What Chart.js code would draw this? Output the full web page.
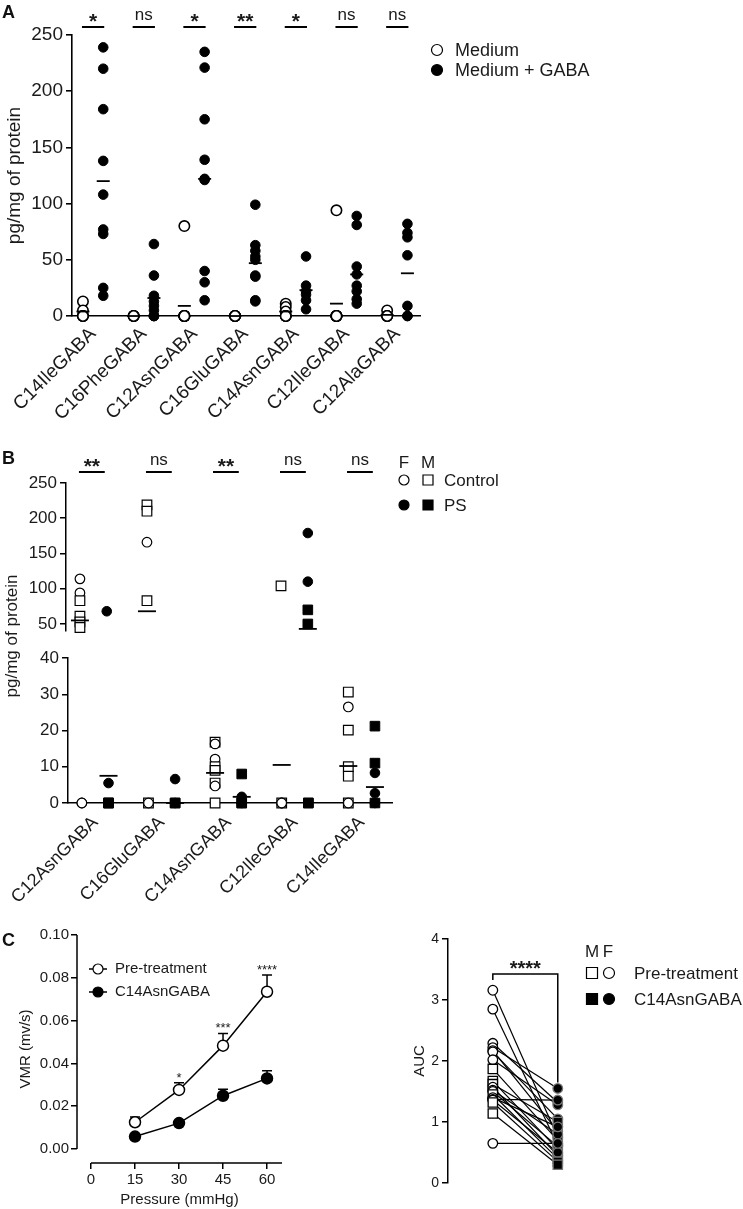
<!DOCTYPE html>
<html><head><meta charset="utf-8">
<script src="https://cdn.jsdelivr.net/npm/chart.js@4.4.1/dist/chart.umd.min.js"></script>
<style>
html,body{margin:0;padding:0;background:#fff;}
#wrap{position:relative;width:743px;height:1209px;overflow:hidden;background:#fff;}
canvas{position:absolute;left:0;top:0;}
.lab{position:absolute;font:bold 18px "Liberation Sans",Arial,sans-serif;color:#111;}
</style></head><body>
<div id="wrap">
<canvas id="cA" width="743" height="1209"></canvas>
<canvas id="cB1" width="743" height="1209"></canvas>
<canvas id="cB2" width="743" height="1209"></canvas>
<canvas id="cC1" width="743" height="1209"></canvas>
<canvas id="cC2" width="743" height="1209"></canvas>
<div class="lab" style="left:2px;top:2px">A</div>
<div class="lab" style="left:2px;top:448px">B</div>
<div class="lab" style="left:2px;top:930px">C</div>
</div>
<script>
// ---------------- DATA ----------------
// Panel A
const catsA = ['C14IleGABA','C16PheGABA','C12AsnGABA','C16GluGABA','C14AsnGABA','C12IleGABA','C12AlaGABA'];
const mediumA = [[13,5,0,0,0],[0,0,0,0],[80,0,0,0,0,0,0,0],[0,0,0,0],[11,8,4,0,0,0],[94,0,0,0,0,0,0,0],[5,0,0,0]];
const gabaA = [[239,220,184,138,108,77,73,25,18],[64,36,18,13,9,5,0,0,0],[235,221,175,139,122,121,40,30,14],[99,63,58,53,50,36,35,14,13],[53,27,22,19,14,6],[89,81,44,37,27,22,15,11],[82,74,70,54,9,0,0]];
const meanMediumA = [4,0,9,0,4,11,1];
const meanGabaA = [120,16,122,47,23,37,38];
const sigA = ['*','ns','*','**','*','ns','ns'];
const ticksA = [0,50,100,150,200,250];

// Panel B
const catsB = ['C12AsnGABA','C16GluGABA','C14AsnGABA','C12IleGABA','C14IleGABA'];
const controlB = [[114,94,83,61,53,45,0,0],[219,210,166,83,0,0],[16.8,16.3,12.1,10,9,5.5,4.7,0],[104,0,0,0],[30.6,26.5,20.1,10,7.4,0,0]];
const controlSexB = [['F','F','M','M','M','M','F','F'],['M','M','F','M','M','F'],['M','F','F','M','M','M','F','M'],['M','M','F','F'],['M','F','M','M','M','M','F']];
const psB = [[68,5.5,0,0,0],[6.6,0,0,0],[8,1.7,0,0,0],[179,110,70,50,0,0],[21.2,11,8.3,2.7,0,0]];
const psSexB = [['F','F','M','M','M'],['F','M','M','F'],['M','F','M','M','F'],['F','F','M','M','M','M'],['M','M','F','F','M','F']];
const meanControlB = [55,68,8.3,10.5,10.2];
const meanPsB = [7.5,0,1.7,43,4.4];
const sigB = ['**','ns','**','ns','ns'];
const ticksBUpper = [50,100,150,200,250];
const ticksBLower = [0,10,20,30,40];

// Panel C (left)
const pressure = [15,30,45,60];
const vmrPre = [0.0125,0.0276,0.0483,0.0735];
const vmrPreSem = [0.0025,0.0034,0.0057,0.0078];
const vmrPost = [0.0058,0.0121,0.0249,0.033];
const vmrPostSem = [0.0006,0.001,0.003,0.0036];
const sigC = ['','*','***','****'];
const ticksCx = [0,15,30,45,60];
const ticksCy = [0,0.02,0.04,0.06,0.08,0.10];

// Panel C (right)
const aucPre  = [3.16,2.85,2.29,2.22,2.17,2.15,2.02,1.87,1.67,1.62,1.57,1.52,1.50,1.45,1.40,1.37,1.36,1.32,1.14,0.65];
const aucPost = [0.75,0.62,1.32,1.55,0.85,1.05,1.28,0.70,0.55,1.00,0.45,0.80,0.60,0.40,0.92,1.36,0.50,0.35,0.30,0.65];
const aucSex  = ['F','F','F','F','F','F','F','M','M','M','F','F','F','M','F','F','F','M','M','F'];
const ticksAUC = [0,1,2,3,4];

// ---------------- SETUP ----------------
const FONT = '"Liberation Sans", Arial, sans-serif';
const INK = '#1a1a1a';
Chart.defaults.font.family = FONT;
Chart.defaults.color = INK;
Chart.defaults.animation = false;
Chart.defaults.events = [];
Chart.defaults.plugins.legend.display = false;
Chart.defaults.plugins.tooltip.enabled = false;
const H = 1209, W = 743;

function f(size, bold){ return (bold?'bold ':'') + size + 'px ' + FONT; }
function styleFor(c){ return c.raw && c.raw.s === 'M' ? 'rect' : 'circle'; }
function radiusFor(c){ return c.raw && c.raw.s === 'M' ? 6.8 : 4.8; }
function yTicksFrom(arr){ return s => { s.ticks = arr.map(v => ({value:v})); }; }

function marker(ctx, x, y, shape, filled, r){
  ctx.save();
  ctx.beginPath();
  if (shape === 'rect') ctx.rect(x-r, y-r, 2*r, 2*r); else ctx.arc(x, y, r, 0, Math.PI*2);
  ctx.fillStyle = filled ? '#000' : '#fff';
  ctx.fill();
  ctx.lineWidth = 1.2; ctx.strokeStyle = '#000'; ctx.stroke();
  ctx.restore();
}
function stars(ctx, s, x, lineY, nsSize, starSize){
  if (s === 'ns') { ctx.font = f(nsSize); ctx.fillText(s, x, lineY - 7); }
  else { ctx.font = f(starSize, true); ctx.fillText(s, x, lineY + 1); }
}

// ---------------- PANEL A ----------------
const ptsMedA = [], ptsGabaA = [];
mediumA.forEach((arr,i) => arr.forEach(v => ptsMedA.push({x:2.5*i, y:v})));
gabaA.forEach((arr,i) => arr.forEach(v => ptsGabaA.push({x:2.5*i+1, y:v})));

const annA = {id:'annA', afterDraw(chart){
  const ctx = chart.ctx, xs = chart.scales.x;
  ctx.save();
  ctx.strokeStyle = '#000'; ctx.lineWidth = 2; ctx.fillStyle = INK; ctx.textAlign = 'center'; ctx.textBaseline = 'alphabetic';
  sigA.forEach((s,i) => {
    const x1 = xs.getPixelForValue(2.5*i) - 1, x2 = xs.getPixelForValue(2.5*i+1) + 1;
    ctx.beginPath(); ctx.moveTo(x1, 27); ctx.lineTo(x2, 27); ctx.stroke();
    stars(ctx, s, (x1+x2)/2, 27, 17, 21);
  });
  // legend
  marker(ctx, 437, 50, 'circle', false, 5.5);
  marker(ctx, 437, 70, 'circle', true, 5.5);
  ctx.fillStyle = INK; ctx.textAlign = 'left'; ctx.textBaseline = 'middle'; ctx.font = f(18);
  ctx.fillText('Medium', 455, 51);
  ctx.fillText('Medium + GABA', 455, 71);
  ctx.restore();
}};

new Chart(document.getElementById('cA'), {
  type: 'scatter',
  data: {datasets: [
    {data: meanMediumA.map((v,i)=>({x:2.5*i, y:v})), pointStyle:'line', pointRadius:6.5, pointBorderWidth:1.8, pointBorderColor:'#000', clip:false, order:0},
    {data: meanGabaA.map((v,i)=>({x:2.5*i+1, y:v})), pointStyle:'line', pointRadius:6.5, pointBorderWidth:1.8, pointBorderColor:'#000', clip:false, order:0},
    {data: ptsMedA, pointStyle:'circle', pointRadius:5.2, pointBackgroundColor:'#fff', pointBorderColor:'#000', pointBorderWidth:1.6, clip:false, order:1},
    {data: ptsGabaA, pointStyle:'circle', pointRadius:4.8, pointBackgroundColor:'#000', pointBorderColor:'#000', pointBorderWidth:1, clip:false, order:1}
  ]},
  options: {
    responsive: false,
    layout: {padding: {left:0, top:35, right:W-420, bottom:0}},
    scales: {
      x: {type:'linear', min:-0.54, max:16.62,
        afterBuildTicks: s => { s.ticks = catsA.map((c,i) => ({value:2.5*i+0.5})); },
        afterFit: s => { s.height = H - 316; },
        grid: {display:false, drawTicks:false},
        border: {display:true, color:'#000', width:1.6},
        ticks: {autoSkip:false, minRotation:45, maxRotation:45, font:{size:19}, color:INK, padding:7, callback:(v,i)=>catsA[i]}},
      y: {min:0, max:250,
        afterBuildTicks: yTicksFrom(ticksA),
        afterFit: s => { s.width = 72; },
        ticks: {font:{size:19}, color:INK, padding:3},
        grid: {drawOnChartArea:false, drawTicks:true, tickLength:6, color:'#000', lineWidth:1.6},
        border: {color:'#000', width:1.6},
        title: {display:true, text:'pg/mg of protein', font:{size:19}, color:INK, padding:{top:3, bottom:0}}}
    }
  },
  plugins: [annA]
});

// ---------------- PANEL B ----------------
function ptsB(vals, sex, off, keep){
  const out = [];
  vals.forEach((arr,i) => arr.forEach((v,j) => { if (keep(v)) out.push({x:2.5*i+off, y:v, s:sex[i][j]}); }));
  return out;
}
function meansB(vals, off, keep){
  const out = [];
  vals.forEach((v,i) => { if (keep(v)) out.push({x:2.5*i+off, y:v}); });
  return out;
}
function datasetsB(keep){
  return [
    {data: meansB(meanControlB, 0, keep), pointStyle:'line', pointRadius:9, pointBorderWidth:1.8, pointBorderColor:'#000', clip:false, order:0},
    {data: meansB(meanPsB, 1, keep), pointStyle:'line', pointRadius:9, pointBorderWidth:1.8, pointBorderColor:'#000', clip:false, order:2},
    {data: ptsB(controlB, controlSexB, 0, keep), pointStyle:styleFor, pointRadius:radiusFor, pointBackgroundColor:'#fff', pointBorderColor:'#000', pointBorderWidth:1.2, clip:false, order:1},
    {data: ptsB(psB, psSexB, 1, keep), pointStyle:styleFor, pointRadius:radiusFor, pointBackgroundColor:'#000', pointBorderColor:'#000', pointBorderWidth:1, clip:false, order:1}
  ];
}
const yAxisB = (min, max, ticks) => ({min, max,
  afterBuildTicks: yTicksFrom(ticks),
  afterFit: s => { s.width = 66; },
  ticks: {font:{size:17}, color:INK, padding:3},
  grid: {drawOnChartArea:false, drawTicks:true, tickLength:6, color:'#000', lineWidth:1.5},
  border: {color:'#000', width:1.5}
});

const annB = {id:'annB', afterDraw(chart){
  const ctx = chart.ctx, xs = chart.scales.x;
  ctx.save();
  ctx.strokeStyle = '#000'; ctx.lineWidth = 2; ctx.fillStyle = INK; ctx.textAlign = 'center'; ctx.textBaseline = 'alphabetic';
  sigB.forEach((s,i) => {
    const x1 = xs.getPixelForValue(2.5*i) - 1, x2 = xs.getPixelForValue(2.5*i+1) - 2;
    ctx.beginPath(); ctx.moveTo(x1, 472); ctx.lineTo(x2, 472); ctx.stroke();
    stars(ctx, s, (x1+x2)/2, 472, 17, 21);
  });
  // legend
  ctx.font = f(17); ctx.textBaseline = 'middle';
  ctx.fillText('F', 404, 463); ctx.fillText('M', 428, 463);
  marker(ctx, 404, 480, 'circle', false, 5);
  marker(ctx, 428, 480, 'rect', false, 5);
  marker(ctx, 404, 505, 'circle', true, 5);
  marker(ctx, 428, 505, 'rect', true, 5);
  ctx.fillStyle = INK; ctx.textAlign = 'left'; ctx.font = f(17);
  ctx.fillText('Control', 444, 481);
  ctx.fillText('PS', 444, 506);
  // y title spanning both segments
  ctx.translate(12, 636); ctx.rotate(-Math.PI/2);
  ctx.textAlign = 'center'; ctx.font = f(17);
  ctx.fillText('pg/mg of protein', 0, 0);
  ctx.restore();
}};

new Chart(document.getElementById('cB1'), {
  type: 'scatter',
  data: {datasets: datasetsB(v => v > 40)},
  options: {
    responsive: false,
    layout: {padding: {left:0, top:483, right:W-392, bottom:H-631}},
    scales: {
      x: {type:'linear', display:false, min:-0.52, max:11.64},
      y: yAxisB(40, 250, ticksBUpper)
    }
  },
  plugins: [annB]
});

new Chart(document.getElementById('cB2'), {
  type: 'scatter',
  data: {datasets: datasetsB(v => v <= 40)},
  options: {
    responsive: false,
    layout: {padding: {left:0, top:658, right:W-392, bottom:0}},
    scales: {
      x: {type:'linear', min:-0.52, max:11.64,
        afterBuildTicks: s => { s.ticks = catsB.map((c,i) => ({value:2.5*i+0.5})); },
        afterFit: s => { s.height = H - 803; },
        grid: {display:false, drawTicks:false},
        border: {display:true, color:'#000', width:1.5},
        ticks: {autoSkip:false, minRotation:45, maxRotation:45, font:{size:18}, color:INK, padding:9, callback:(v,i)=>catsB[i]}},
      y: yAxisB(0, 40, ticksBLower)
    }
  }
});

// ---------------- PANEL C left ----------------
const errC = {id:'errC', beforeDatasetsDraw(chart){
  const ctx = chart.ctx, xs = chart.scales.x, ys = chart.scales.y;
  ctx.save(); ctx.strokeStyle = '#000'; ctx.lineWidth = 1.5;
  [[vmrPre, vmrPreSem], [vmrPost, vmrPostSem]].forEach(([m, e]) => {
    m.forEach((v,i) => {
      const x = xs.getPixelForValue(pressure[i]), y1 = ys.getPixelForValue(v), y2 = ys.getPixelForValue(v + e[i]);
      ctx.beginPath(); ctx.moveTo(x, y1); ctx.lineTo(x, y2); ctx.moveTo(x-5, y2); ctx.lineTo(x+5, y2); ctx.stroke();
    });
  });
  ctx.restore();
}, afterDraw(chart){
  const ctx = chart.ctx, xs = chart.scales.x, ys = chart.scales.y, ca = chart.chartArea;
  ctx.save(); ctx.strokeStyle = '#000'; ctx.lineWidth = 1.5;
  ctx.beginPath();
  ctx.moveTo(xs.getPixelForValue(0), ca.bottom); ctx.lineTo(ca.right, ca.bottom);
  ctx.moveTo(ca.left, ys.getPixelForValue(0)); ctx.lineTo(ca.left, ys.getPixelForValue(0.1));
  ctx.stroke();
  // significance
  ctx.fillStyle = INK; ctx.textAlign = 'center'; ctx.textBaseline = 'alphabetic'; ctx.font = f(13);
  sigC.forEach((s,i) => {
    if (!s) return;
    const x = xs.getPixelForValue(pressure[i]), y = ys.getPixelForValue(vmrPre[i] + vmrPreSem[i]);
    ctx.fillText(s, x, y - 1);
  });
  // legend
  ctx.beginPath(); ctx.moveTo(89, 969); ctx.lineTo(107, 969); ctx.moveTo(89, 992); ctx.lineTo(107, 992); ctx.stroke();
  marker(ctx, 98, 969, 'circle', false, 5);
  marker(ctx, 98, 992, 'circle', true, 5);
  ctx.fillStyle = INK; ctx.textAlign = 'left'; ctx.textBaseline = 'middle'; ctx.font = f(15);
  ctx.fillText('Pre-treatment', 115, 969);
  ctx.fillText('C14AsnGABA', 115, 992);
  ctx.restore();
}};

new Chart(document.getElementById('cC1'), {
  type: 'line',
  data: {datasets: [
    {data: pressure.map((p,i)=>({x:p, y:vmrPre[i]})), borderColor:'#000', borderWidth:1.5, pointRadius:5.5, pointBackgroundColor:'#fff', pointBorderColor:'#000', pointBorderWidth:1.5, clip:false},
    {data: pressure.map((p,i)=>({x:p, y:vmrPost[i]})), borderColor:'#000', borderWidth:1.5, pointRadius:5.5, pointBackgroundColor:'#000', pointBorderColor:'#000', pointBorderWidth:1.5, clip:false}
  ]},
  options: {
    responsive: false,
    layout: {padding: {left:0, top:935, right:W-282, bottom:0}},
    scales: {
      x: {type:'linear', min:-4.77, max:65.1,
        afterBuildTicks: yTicksFrom(ticksCx),
        afterFit: s => { s.height = H - 1163; },
        grid: {drawOnChartArea:false, drawTicks:true, tickLength:6, color:'#000', lineWidth:1.5},
        border: {display:false},
        ticks: {font:{size:15}, color:INK, padding:2},
        title: {display:true, text:'Pressure (mmHg)', font:{size:15}, color:INK, padding:{top:0, bottom:0}}},
      y: {min:-0.00654, max:0.1,
        afterBuildTicks: yTicksFrom(ticksCy),
        afterFit: s => { s.width = 77; },
        grid: {drawOnChartArea:false, drawTicks:true, tickLength:6, color:'#000', lineWidth:1.5},
        border: {display:false},
        ticks: {font:{size:15}, color:INK, padding:2, callback: v => v.toFixed(2)},
        title: {display:true, text:'VMR (mv/s)', font:{size:15}, color:INK, padding:{top:17, bottom:0}}}
    }
  },
  plugins: [errC]
});

// ---------------- PANEL C right ----------------
const dsAUC = [];
aucPre.forEach((v,i) => {
  dsAUC.push({type:'line', data:[{x:0, y:v}, {x:1, y:aucPost[i]}], borderColor:'#000', borderWidth:1.2, pointRadius:0, clip:false, order:2});
});
dsAUC.push({type:'scatter', data: aucPre.map((v,i)=>({x:0, y:v, s:aucSex[i]})), pointStyle:styleFor, pointRadius:c=>c.raw&&c.raw.s==='M'?6.6:4.8, pointBackgroundColor:'#fff', pointBorderColor:'#000', pointBorderWidth:1.3, clip:false, order:1});
dsAUC.push({type:'scatter', data: aucPost.map((v,i)=>({x:1, y:v, s:aucSex[i]})), pointStyle:styleFor, pointRadius:c=>c.raw&&c.raw.s==='M'?6.6:4.8, pointBackgroundColor:'#000', pointBorderColor:'#777', pointBorderWidth:1.3, clip:false, order:0});

const annC2 = {id:'annC2', afterDraw(chart){
  const ctx = chart.ctx, xs = chart.scales.x, ys = chart.scales.y;
  const x0 = xs.getPixelForValue(0), x1 = xs.getPixelForValue(1), yb = 974;
  ctx.save(); ctx.strokeStyle = '#000'; ctx.lineWidth = 1.5;
  ctx.beginPath();
  ctx.moveTo(x0, yb + 6); ctx.lineTo(x0, yb); ctx.lineTo(x1, yb); ctx.lineTo(x1, ys.getPixelForValue(Math.max(...aucPost)) - 6);
  ctx.stroke();
  ctx.fillStyle = INK; ctx.textAlign = 'center'; ctx.textBaseline = 'alphabetic'; ctx.font = f(20, true);
  ctx.fillText('****', (x0+x1)/2, yb + 1);
  // legend
  ctx.font = f(17); ctx.textBaseline = 'middle';
  ctx.fillText('M', 592, 952); ctx.fillText('F', 608, 952);
  marker(ctx, 592, 973, 'rect', false, 5.5);
  marker(ctx, 609, 973, 'circle', false, 5.5);
  marker(ctx, 592, 999, 'rect', true, 5.5);
  marker(ctx, 609, 999, 'circle', true, 5.5);
  ctx.fillStyle = INK; ctx.textAlign = 'left'; ctx.font = f(17);
  ctx.fillText('Pre-treatment', 634, 974);
  ctx.fillText('C14AsnGABA', 634, 1000);
  ctx.restore();
}};

new Chart(document.getElementById('cC2'), {
  type: 'scatter',
  data: {datasets: dsAUC},
  options: {
    responsive: false,
    layout: {padding: {left:380, top:939, right:W-600, bottom:H-1183}},
    scales: {
      x: {type:'linear', display:false, min:-0.69, max:1.65},
      y: {min:0, max:4,
        afterBuildTicks: yTicksFrom(ticksAUC),
        afterFit: s => { s.width = 68; },
        grid: {drawOnChartArea:false, drawTicks:true, tickLength:6, color:'#000', lineWidth:1.5},
        border: {color:'#000', width:1.5},
        ticks: {font:{size:14}, color:INK, padding:3},
        title: {display:true, text:'AUC', font:{size:15}, color:INK, padding:{top:31, bottom:0}}}
    }
  },
  plugins: [annC2]
});
</script>
</body></html>
